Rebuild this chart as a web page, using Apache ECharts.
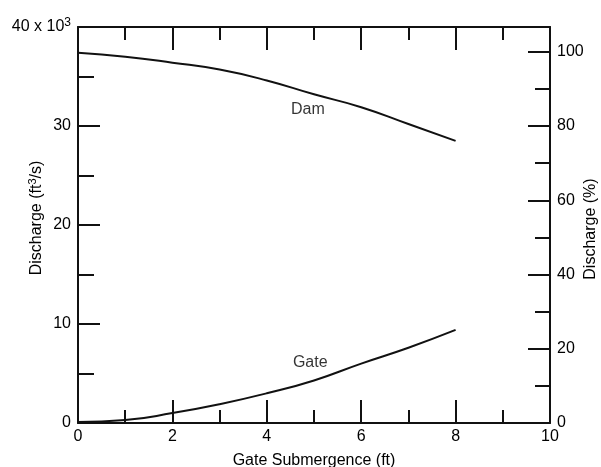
<!DOCTYPE html>
<html>
<head>
<meta charset="utf-8">
<script src="https://cdn.jsdelivr.net/npm/echarts@6/dist/echarts.min.js"></script>
<style>html,body{margin:0;padding:0;background:#fff}#c{width:601px;height:467px}</style>
</head>
<body>
<div id="c"></div>
<script>
const submergence = [0, 1, 2, 3, 4, 5, 6, 7, 8];
const damDischarge = [37.4, 37.0, 36.4, 35.7, 34.6, 33.2, 31.9, 30.2, 28.5];
const gateDischarge = [0.1, 0.3, 1.0, 1.9, 3.0, 4.3, 6.0, 7.6, 9.4];
const curveLabels = [
  { name: 'Dam', x: 4.87, y: 31.7 },
  { name: 'Gate', x: 4.92, y: 6.1 }
];
const leftTicks = [0, 10, 20, 30, 40];
const rightTicks = [0, 20, 40, 60, 80, 100];
const fullFlow = 37.5; // 100 % on the right axis, in 10^3 ft^3/s

const font = 'Liberation Sans, Arial, Helvetica, sans-serif';
const ink = '#000';
const lineStyle = { color: '#111', width: 2 };
const pctMax = 100 * 40 / fullFlow;

const chart = echarts.init(document.getElementById('c'));
const xBase = {
  type: 'value', min: 0, max: 10, interval: 2,
  axisLine: { show: true, onZero: false, lineStyle },
  axisTick: { show: true, inside: true, length: 23, lineStyle },
  minorTick: { show: true, splitNumber: 2, length: 13, lineStyle },
  splitLine: { show: false }
};
const option = {
  animation: false,
  backgroundColor: '#fff',
  grid: { left: 78, right: 51, top: 27, bottom: 44, containLabel: false, outerBoundsMode: 'none' },
  xAxis: [
    Object.assign({}, xBase, {
      position: 'bottom',
      axisLabel: { color: ink, fontFamily: font, fontSize: 16, margin: 6 },
      name: 'Gate Submergence (ft)', nameLocation: 'middle', nameGap: 30,
      nameTextStyle: { color: ink, fontFamily: font, fontSize: 16 }
    }),
    Object.assign({}, xBase, { position: 'top', axisLabel: { show: false } })
  ],
  yAxis: [
    {
      type: 'value', min: 0, max: 40, interval: 10, position: 'left',
      axisLine: { show: true, onZero: false, lineStyle },
      axisTick: { show: true, inside: true, length: 22, lineStyle },
      minorTick: { show: true, splitNumber: 2, length: 16, lineStyle },
      splitLine: { show: false },
      axisLabel: {
        color: ink, fontFamily: font, fontSize: 16, margin: 7,
        formatter: v => leftTicks.includes(v) ? (v === 40 ? '40 x 10{s|3}' : String(v)) : '',
        rich: { s: { fontSize: 12, fontFamily: font, color: ink, verticalAlign: 'top', padding: [0, 0, 9, 0] } }
      }
    },
    {
      type: 'value', min: 0, max: pctMax, interval: 20, position: 'right',
      axisLine: { show: true, onZero: false, lineStyle },
      axisTick: { show: true, inside: true, length: 22, lineStyle },
      splitLine: { show: false },
      axisLabel: {
        color: ink, fontFamily: font, fontSize: 16, margin: 7,
        formatter: v => rightTicks.includes(Math.round(v * 1000) / 1000) ? String(v) : ''
      }
    },
    {
      type: 'value', min: 0, max: pctMax, interval: 10, position: 'right', offset: 0,
      axisLine: { show: false, onZero: false },
      axisTick: { show: true, inside: true, length: 15, lineStyle },
      splitLine: { show: false },
      axisLabel: { show: false }
    }
  ],
  graphic: [
    {
      type: 'text', x: 37, y: 218, rotation: Math.PI / 2,
      style: {
        text: 'Discharge (ft{s|3}/s)', align: 'center', verticalAlign: 'middle',
        font: '16px ' + font, fill: ink,
        rich: { s: { fontSize: 11, fontFamily: font, fill: ink, verticalAlign: 'top', padding: [0, 0, 8, 0] } }
      }
    },
    {
      type: 'text', x: 591, y: 229, rotation: Math.PI / 2,
      style: { text: 'Discharge (%)', align: 'center', verticalAlign: 'middle', font: '16px ' + font, fill: ink }
    }
  ],
  series: [
    {
      type: 'line', name: 'Dam', xAxisIndex: 0, yAxisIndex: 0, smooth: true, symbol: 'none',
      lineStyle, data: submergence.map((x, i) => [x, damDischarge[i]])
    },
    {
      type: 'line', name: 'Gate', xAxisIndex: 0, yAxisIndex: 0, smooth: true, symbol: 'none',
      lineStyle, data: submergence.map((x, i) => [x, gateDischarge[i]])
    },
    {
      type: 'scatter', xAxisIndex: 0, yAxisIndex: 0, symbolSize: 0, silent: true,
      label: { show: true, position: 'inside', formatter: p => p.data[2], color: ink, fontFamily: font, fontSize: 16 },
      data: curveLabels.map(c => [c.x, c.y, c.name])
    }
  ]
};
chart.setOption(option);
</script>
</body>
</html>
